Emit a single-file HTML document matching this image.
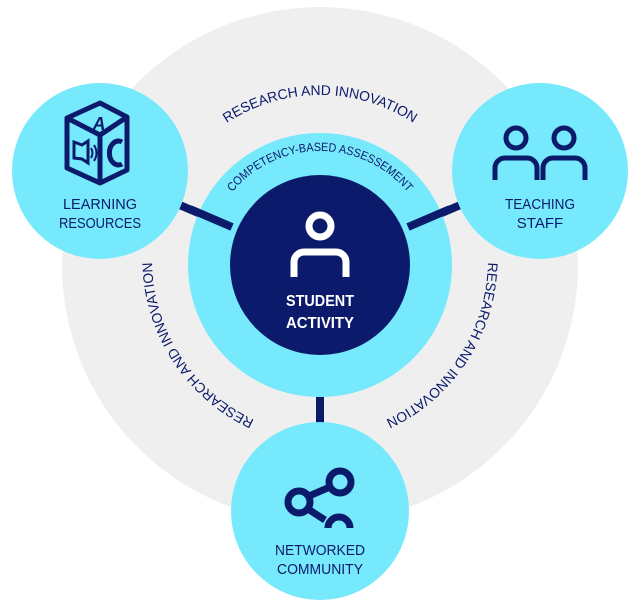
<!DOCTYPE html>
<html><head><meta charset="utf-8"><style>
html,body{margin:0;padding:0;background:#fff;}
svg{display:block;}
text{font-family:"Liberation Sans",sans-serif;}
</style></head><body>
<svg width="636" height="611" viewBox="0 0 636 611" xmlns="http://www.w3.org/2000/svg">
<defs>
<path id="top" d="M150 265 A170 170 0 0 1 490 265"/>
<path id="right" d="M416 117 A177 177 0 0 1 223.6 413.4"/>
<path id="left" d="M416.4 413.4 A177 177 0 0 1 224 117"/>
<path id="inner" d="M206 265 A114 114 0 0 1 434 265"/>
</defs>
<circle cx="320" cy="265" r="258" fill="#efefef"/>
<g stroke="#0c1a6b" stroke-width="8">
<line x1="100" y1="171" x2="320" y2="265"/>
<line x1="540" y1="171" x2="320" y2="265"/>
<line x1="320" y1="265" x2="320" y2="511"/>
</g>
<circle cx="320" cy="265" r="132" fill="#76e9fc"/>
<circle cx="320" cy="265" r="90" fill="#0c1a6b"/>
<g stroke="#0c1a6b" stroke-width="8">
<line x1="190" y1="209" x2="232" y2="227"/>
<line x1="450" y1="209" x2="408" y2="227"/>
<line x1="320" y1="397" x2="320" y2="424"/>
</g>
<circle cx="100" cy="171" r="88" fill="#76e9fc"/>
<circle cx="540" cy="171" r="88" fill="#76e9fc"/>
<circle cx="320" cy="511" r="89" fill="#76e9fc"/>

<g fill="#0c1a6b" font-size="14">
<text><textPath href="#top" startOffset="50%" text-anchor="middle" textLength="198" lengthAdjust="spacingAndGlyphs">RESEARCH AND INNOVATION</textPath></text>
<text><textPath href="#right" startOffset="50%" text-anchor="middle" textLength="198" lengthAdjust="spacingAndGlyphs">RESEARCH AND INNOVATION</textPath></text>
<text><textPath href="#left" startOffset="50%" text-anchor="middle" textLength="198" lengthAdjust="spacingAndGlyphs">RESEARCH AND INNOVATION</textPath></text>
<text font-size="12"><textPath href="#inner" startOffset="50%" text-anchor="middle" textLength="200" lengthAdjust="spacingAndGlyphs">COMPETENCY-BASED ASSESSEMENT</textPath></text>
</g>

<g fill="#0c1a6b" font-size="15" text-anchor="middle">
<text x="100" y="209" textLength="74" lengthAdjust="spacingAndGlyphs">LEARNING</text>
<text x="100" y="228" textLength="82" lengthAdjust="spacingAndGlyphs">RESOURCES</text>
<text x="540" y="209" textLength="70" lengthAdjust="spacingAndGlyphs">TEACHING</text>
<text x="540" y="228">STAFF</text>
<text x="320" y="555" textLength="90" lengthAdjust="spacingAndGlyphs">NETWORKED</text>
<text x="320" y="574" textLength="86" lengthAdjust="spacingAndGlyphs">COMMUNITY</text>
</g>
<g fill="#fff" font-size="16" font-weight="bold" text-anchor="middle">
<text x="320" y="306" textLength="68" lengthAdjust="spacingAndGlyphs">STUDENT</text>
<text x="320" y="328" textLength="68" lengthAdjust="spacingAndGlyphs">ACTIVITY</text>
</g>

<g fill="none" stroke="#fff" stroke-width="7">
<circle cx="320" cy="226" r="11"/>
<path d="M294 277 V262 a10 10 0 0 1 10 -10 H336 a10 10 0 0 1 10 10 V277"/>
</g>

<g fill="none" stroke="#0c1a6b" stroke-width="5" stroke-linejoin="round">
<path d="M100 103 L127 117 L127 170 L100 183 L67 168 L67 118 Z"/>
<path d="M67 118 L100 135 L127 117"/>
<path d="M100 135 V183"/>
</g>
<text x="99" y="130" fill="#0c1a6b" font-size="18" font-weight="bold" font-style="italic" text-anchor="middle">A</text>
<path d="M74 142 l8 3 l6 -4 v22 l-6 -4 l-8 -1 z" fill="none" stroke="#0c1a6b" stroke-width="3"/>
<path d="M91 148 q3 5 0 10 M94 145 q5 8 0 16" fill="none" stroke="#0c1a6b" stroke-width="2"/>
<path d="M122 142 a9 12 0 1 0 0 22" fill="none" stroke="#0c1a6b" stroke-width="5"/>

<g fill="none" stroke="#0c1a6b" stroke-width="5">
<circle cx="516" cy="138" r="10"/>
<circle cx="564" cy="138" r="10"/>
<path d="M495 180 V168 a10 10 0 0 1 10 -10 H527 a10 10 0 0 1 10 10 V180"/>
<path d="M543 180 V168 a10 10 0 0 1 10 -10 H575 a10 10 0 0 1 10 10 V180"/>
</g>

<g fill="none" stroke="#0c1a6b" stroke-width="7">
<circle cx="299" cy="502" r="11"/>
<circle cx="340" cy="482" r="11"/>
<line x1="309" y1="496" x2="330" y2="487"/>
<line x1="308" y1="509" x2="325" y2="520"/>
<path d="M328 528 a11 11 0 0 1 22 0"/>
</g>
</svg>
</body></html>
